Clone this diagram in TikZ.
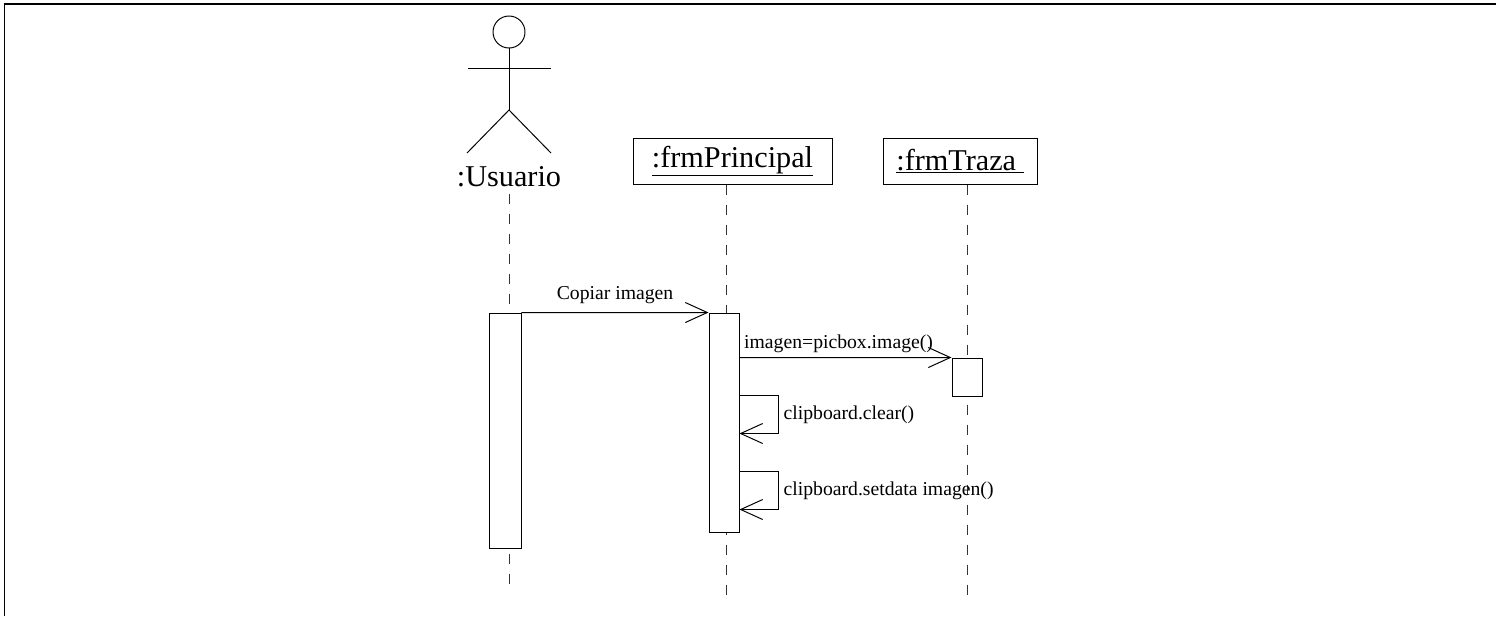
\documentclass[tikz,border=0pt]{standalone}
\usepackage{fontspec}
\setmainfont{Liberation Serif}
\newfontfamily\umlfont{Liberation Serif}
\usetikzlibrary{arrows.meta,positioning}
\tikzset{obj/.style={draw,line width=0.7pt,inner sep=0pt,minimum height=1.15cm,font=\umlfont\fontsize{21.5}{24}\selectfont},
 act/.style={draw,line width=0.7pt,fill=white,inner sep=0pt,minimum width=0.75cm},
 lifeline/.style={draw=black!80,line width=0.6pt,dash pattern=on 0.25cm off 0.25cm},
 msg/.style={-{Straight Barb[length=0.55cm,width=0.5cm]},line width=0.7pt},
 lbl/.style={font=\umlfont\fontsize{14}{16}\selectfont}}

\begin{document}
\begin{tikzpicture}
\useasboundingbox (0,0) rectangle (37.4,-15.4);
\draw[line width=1pt] (0.11,-15.4) -- (0.11,-0.1) -- (37.4,-0.1);
% actor
\draw[line width=0.7pt] (12.725,-0.8) circle (0.4);
\draw[line width=0.7pt] (11.7,-1.7) -- (13.775,-1.7);
\draw[line width=0.7pt] (12.725,-1.2) -- (12.725,-2.75);
\draw[line width=0.7pt] (11.675,-3.825) -- (12.725,-2.75) -- (13.775,-3.825);
\node[font=\umlfont\fontsize{21.5}{24}\selectfont,inner sep=0pt] (usuario) at (12.725,-4.425) {:Usuario};
\node[obj,minimum width=4.975cm] (principal) at (18.3125,-4.025) {\underline{:frmPrincipal}};
\node[obj,minimum width=3.85cm] (traza) at (24,-4.025) {\underline{:frmTraza\ }};
% lifelines
\coordinate (endusuario) at (12.725,-14.825);
\coordinate (endprincipal) at (18.15,-14.95);
\coordinate (endtraza) at (24.175,-14.95);
\draw[lifeline] ([yshift=-0.15cm]usuario.south) -- (endusuario);
\draw[lifeline] (principal.south -| endprincipal) -- (endprincipal);
\draw[lifeline] (traza.south -| endtraza) -- (endtraza);
% activations
\node[act,minimum width=0.8cm,minimum height=5.875cm] (actusuario) at (12.625,-10.7625) {};
\node[act,minimum height=5.475cm] (actprincipal) at (18.1,-10.5625) {};
\node[act,minimum height=0.95cm] (acttraza) at (24.175,-9.425) {};
% messages
\draw[msg] (actusuario.north east) -- node[lbl,above,yshift=0.1cm]{Copiar imagen} (actprincipal.north west);
\draw[msg] ([yshift=-1.125cm]actprincipal.north east) -- node[lbl,pos=0,above right,inner sep=3pt]{imagen=picbox.image()} (acttraza.north west);
\draw[msg] ([yshift=-2.075cm]actprincipal.north east) -- ++(0.975,0) |- node[lbl,pos=0.25,right]{clipboard.clear()} ([yshift=-3.025cm]actprincipal.north east);
\draw[msg] ([yshift=-3.975cm]actprincipal.north east) -- ++(0.975,0) |- node[lbl,pos=0.25,right]{clipboard.setdata imagen()} ([yshift=-4.925cm]actprincipal.north east);
\end{tikzpicture}
\end{document}
